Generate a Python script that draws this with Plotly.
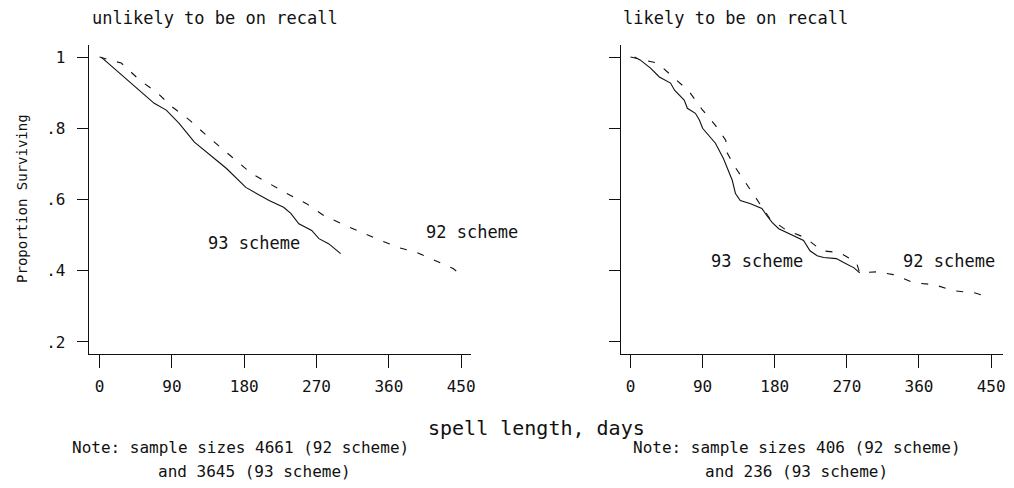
import plotly.graph_objects as go

# ---- data ----
left_days_93 = [2, 31, 53, 68, 83, 99, 118, 130, 158, 182, 195, 211, 229, 238, 248, 264, 273, 285, 300]
left_surv_93 = [1.0, 0.944, 0.901, 0.870, 0.851, 0.814, 0.761, 0.738, 0.687, 0.634, 0.617, 0.597,
                0.578, 0.561, 0.532, 0.513, 0.490, 0.476, 0.448]

left_days_92 = [0, 27, 50, 71, 91, 112, 133, 151, 174, 189, 211, 233, 257, 279, 301, 326, 350,
                372, 395, 418, 440, 447]
left_surv_92 = [1.0, 0.983, 0.935, 0.901, 0.859, 0.823, 0.780, 0.746, 0.701, 0.673, 0.645, 0.617,
                0.589, 0.555, 0.532, 0.507, 0.485, 0.465, 0.451, 0.428, 0.406, 0.394]

right_days_93 = [5, 12, 25, 36, 50, 55, 67, 71, 81, 86, 90, 98, 106, 116, 121, 127, 131, 137, 149,
                 155, 164, 170, 177, 185, 195, 208, 216, 224, 233, 241, 257, 266, 279, 286]
right_surv_93 = [1.0, 0.992, 0.969, 0.944, 0.927, 0.907, 0.879, 0.856, 0.842, 0.823, 0.800, 0.780,
                 0.758, 0.715, 0.687, 0.654, 0.617, 0.597, 0.589, 0.583, 0.575, 0.555, 0.535,
                 0.518, 0.507, 0.493, 0.485, 0.456, 0.442, 0.437, 0.434, 0.423, 0.408, 0.394]

right_days_92 = [0, 34, 52, 73, 89, 106, 119, 119, 129, 146, 158, 174, 195, 218, 239, 261, 282,
                 286, 307, 328, 354, 379, 403, 429, 450]
right_surv_92 = [1.0, 0.983, 0.946, 0.904, 0.854, 0.808, 0.766, 0.738, 0.696, 0.639, 0.597, 0.546,
                 0.513, 0.493, 0.456, 0.451, 0.423, 0.394, 0.397, 0.389, 0.366, 0.361, 0.344,
                 0.338, 0.324]

x_ticks = [0, 90, 180, 270, 360, 450]
y_ticks = [0.2, 0.4, 0.6, 0.8, 1.0]
y_tick_labels = [".2", ".4", ".6", ".8", "1"]

panel_titles = ["unlikely to be on recall", "likely to be on recall"]
y_title = "Proportion Surviving"
x_title = "spell length, days"
notes_left = ["Note: sample sizes 4661 (92 scheme)", "and 3645 (93 scheme)"]
notes_right = ["Note: sample sizes 406 (92 scheme)", "and 236 (93 scheme)"]
series_labels = ["93 scheme", "92 scheme"]

# ---- figure ----
W, H = 1014, 488
FONT = "DejaVu Sans Mono"
INK = "#111111"


def px(x):
    return x / W


def py(y):
    return 1 - y / H


fig = go.Figure()

solid = dict(color=INK, width=1.1)
dashed = dict(color=INK, width=1.1, dash="7px,11px")

fig.add_trace(go.Scatter(x=left_days_93, y=left_surv_93, mode="lines", line=solid,
                         xaxis="x", yaxis="y", showlegend=False))
fig.add_trace(go.Scatter(x=left_days_92, y=left_surv_92, mode="lines", line=dashed,
                         xaxis="x", yaxis="y", showlegend=False))
fig.add_trace(go.Scatter(x=right_days_93, y=right_surv_93, mode="lines", line=solid,
                         xaxis="x2", yaxis="y2", showlegend=False))
fig.add_trace(go.Scatter(x=right_days_92, y=right_surv_92, mode="lines", line=dashed,
                         xaxis="x2", yaxis="y2", showlegend=False))

xcommon = dict(tickvals=x_ticks, ticktext=[str(v) for v in x_ticks], ticks="outside",
               ticklen=13, tickwidth=1, tickcolor=INK, showline=True, linecolor=INK,
               linewidth=1, showgrid=False, zeroline=False, ticklabelstandoff=5,
               tickfont=dict(family=FONT, size=16, color=INK), fixedrange=True)
ycommon = dict(tickvals=y_ticks, ticktext=y_tick_labels, ticks="outside", ticklen=11,
               tickwidth=1, tickcolor=INK, showline=True, linecolor=INK, linewidth=1,
               showgrid=False, zeroline=False, range=[0.1662, 1.0338],
               tickfont=dict(family=FONT, size=16, color=INK), fixedrange=True)

dom_y = [py(354), py(45)]

fig.update_layout(
    width=W, height=H,
    margin=dict(l=0, r=0, t=0, b=0),
    paper_bgcolor="white", plot_bgcolor="white",
    xaxis=dict(xcommon, domain=[px(89), px(473)], range=[-13.6, 462.4], anchor="y"),
    yaxis=dict(ycommon, domain=dom_y, anchor="x", ticklabelstandoff=8),
    xaxis2=dict(xcommon, domain=[px(623), px(1007)], range=[-12.4, 464.9], anchor="y2"),
    yaxis2=dict(ycommon, domain=dom_y, anchor="x2", showticklabels=False),
    showlegend=False,
)

ann = []


def add_text(text, x, y, size, xanchor="center", angle=0):
    ann.append(dict(text=text, x=px(x), y=py(y), xref="paper", yref="paper",
                    xanchor=xanchor, yanchor="middle", showarrow=False, textangle=angle,
                    font=dict(family=FONT, size=size, color=INK)))


add_text(panel_titles[0], 90, 18, 17, xanchor="left")
add_text(panel_titles[1], 623, 18, 17, xanchor="left")
add_text(y_title, 22, 198, 14, angle=-90)
add_text(x_title, 539, 428, 20)
add_text(notes_left[0], 241, 447, 16)
add_text(notes_left[1], 256, 471, 16)
add_text(notes_right[0], 800, 447, 16)
add_text(notes_right[1], 800, 471, 16)
add_text(series_labels[0], 255, 243, 17)
add_text(series_labels[1], 474, 232, 17)
add_text(series_labels[0], 760, 261, 17)
add_text(series_labels[1], 953, 261, 17)

fig.update_layout(annotations=ann)

fig.write_html("out.html")
